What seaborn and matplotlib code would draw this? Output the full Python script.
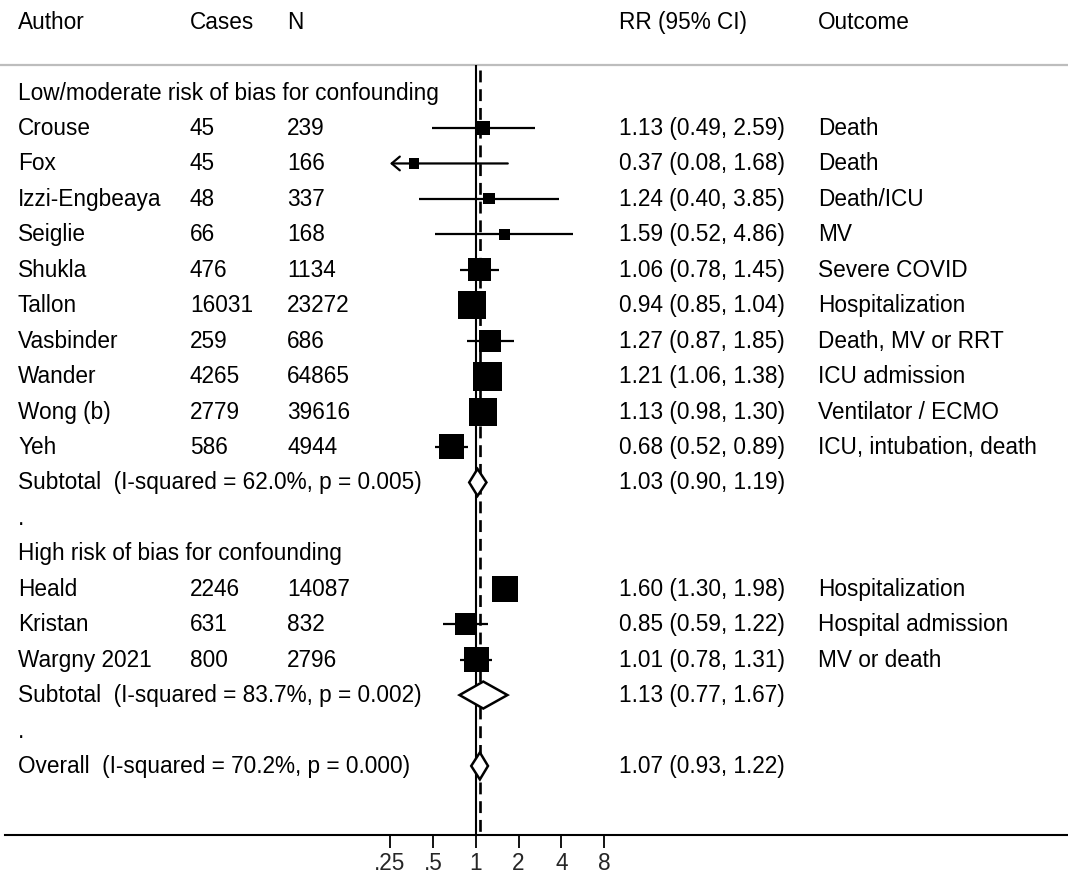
import numpy as np
import pandas as pd
import matplotlib
matplotlib.use("Agg")
import matplotlib.pyplot as plt
import matplotlib.transforms as mtransforms
from matplotlib.patches import Polygon
import seaborn as sns

sns.set_style("white")
plt.rcParams["font.family"] = ["Liberation Sans", "DejaVu Sans"]

# ---------------- data ----------------
headers = ["Author", "Cases", "N", "RR (95% CI)", "Outcome"]
group_labels = ["Low/moderate risk of bias for confounding",
                "High risk of bias for confounding"]

authors_g1 = ["Crouse", "Fox", "Izzi-Engbeaya", "Seiglie", "Shukla", "Tallon",
              "Vasbinder", "Wander", "Wong (b)", "Yeh"]
cases_g1 = [45, 45, 48, 66, 476, 16031, 259, 4265, 2779, 586]
n_g1 = [239, 166, 337, 168, 1134, 23272, 686, 64865, 39616, 4944]
rr_g1 = [1.13, 0.37, 1.24, 1.59, 1.06, 0.94, 1.27, 1.21, 1.13, 0.68]
lo_g1 = [0.49, 0.08, 0.40, 0.52, 0.78, 0.85, 0.87, 1.06, 0.98, 0.52]
hi_g1 = [2.59, 1.68, 3.85, 4.86, 1.45, 1.04, 1.85, 1.38, 1.30, 0.89]
weight_g1 = [3.1, 1.6, 1.9, 1.9, 8.3, 12.3, 7.6, 13.2, 12.3, 9.8]
outcome_g1 = ["Death", "Death", "Death/ICU", "MV", "Severe COVID",
              "Hospitalization", "Death, MV or RRT", "ICU admission",
              "Ventilator / ECMO", "ICU, intubation, death"]

authors_g2 = ["Heald", "Kristan", "Wargny 2021"]
cases_g2 = [2246, 631, 800]
n_g2 = [14087, 832, 2796]
rr_g2 = [1.60, 0.85, 1.01]
lo_g2 = [1.30, 0.59, 0.78]
hi_g2 = [1.98, 1.22, 1.31]
weight_g2 = [10.6, 7.6, 9.8]
outcome_g2 = ["Hospitalization", "Hospital admission", "MV or death"]

subtotal_labels = ["Subtotal  (I-squared = 62.0%, p = 0.005)",
                   "Subtotal  (I-squared = 83.7%, p = 0.002)"]
subtotal_rr = [1.03, 1.13]
subtotal_lo = [0.90, 0.77]
subtotal_hi = [1.19, 1.67]

overall_label = "Overall  (I-squared = 70.2%, p = 0.000)"
overall_rr, overall_lo, overall_hi = 1.07, 0.93, 1.22

tick_values = [0.25, 0.5, 1, 2, 4, 8]
tick_labels = [".25", ".5", "1", "2", "4", "8"]

# ---------------- layout ----------------
W, H = 1068, 877
fig = plt.figure(figsize=(W / 100, H / 100), dpi=100)
ax_left = 5 / W
ax_bottom = (H - 835) / H
ax = fig.add_axes([ax_left, ax_bottom, 1 - ax_left, 1 - ax_bottom])

px_per_doubling = 42.87
x_one = 475.7
ax.set_xscale("log", base=2)
ax.set_xlim(2 ** ((5 - x_one) / px_per_doubling), 2 ** ((W - x_one) / px_per_doubling))
row_px = 35.44
row0_px = 21.7
ax.set_ylim((835 - row0_px) / row_px, (0 - row0_px) / row_px)

FS = 16.3
tr = mtransforms.blended_transform_factory(fig.transFigure, ax.transData)
tr_text = mtransforms.offset_copy(tr, fig=fig, x=0, y=2, units="dots")
col_x = {"author": 18 / W, "cases": 190 / W, "n": 287 / W, "rr": 619 / W, "out": 818 / W}


def txt(x, y, s):
    ax.text(x, y, s, transform=tr_text, fontsize=FS, va="center_baseline", ha="left",
            color="black")


def fmt(r, l, h):
    return f"{r:.2f} ({l:.2f}, {h:.2f})"


# header
row = 0
for key, h in zip(["author", "cases", "n", "rr", "out"], headers):
    txt(col_x[key], row, h)
sep_row = (65 - row0_px) / row_px
ax.plot([0, 1], [sep_row, sep_row], transform=tr, color="#bdbdbd", lw=1.6,
        clip_on=False, solid_capstyle="butt")

records = []
diamonds = []
row = 2
groups = [
    (authors_g1, cases_g1, n_g1, rr_g1, lo_g1, hi_g1, weight_g1, outcome_g1),
    (authors_g2, cases_g2, n_g2, rr_g2, lo_g2, hi_g2, weight_g2, outcome_g2),
]
for gi, (au, ca, nn, rr, lo, hi, wt, oc) in enumerate(groups):
    txt(col_x["author"], row, group_labels[gi])
    row += 1
    for a, c, n_, r, l, h, w, o in zip(au, ca, nn, rr, lo, hi, wt, oc):
        records.append(dict(row=row, rr=r, lo=l, hi=h, weight=w))
        txt(col_x["author"], row, a)
        txt(col_x["cases"], row, str(c))
        txt(col_x["n"], row, str(n_))
        txt(col_x["rr"], row, fmt(r, l, h))
        txt(col_x["out"], row, o)
        row += 1
    txt(col_x["author"], row, subtotal_labels[gi])
    txt(col_x["rr"], row, fmt(subtotal_rr[gi], subtotal_lo[gi], subtotal_hi[gi]))
    diamonds.append((row, subtotal_rr[gi], subtotal_lo[gi], subtotal_hi[gi]))
    row += 1
    txt(col_x["author"], row, ".")
    row += 1
txt(col_x["author"], row, overall_label)
txt(col_x["rr"], row, fmt(overall_rr, overall_lo, overall_hi))
diamonds.append((row, overall_rr, overall_lo, overall_hi))

df = pd.DataFrame(records)

# reference lines
bottom_row = (835 - row0_px) / row_px
ax.plot([1, 1], [sep_row, bottom_row], color="black", lw=1.5, solid_capstyle="butt")
ax.plot([overall_rr, overall_rr], [(70 - row0_px) / row_px, bottom_row], color="black",
        lw=1.9, dashes=(4.5, 2.6))

# CI lines
xmin_plot, xmax_plot = tick_values[0], tick_values[-1]
for _, r in df.iterrows():
    l = max(r.lo, xmin_plot)
    h = min(r.hi, xmax_plot)
    if r.lo < xmin_plot:
        ax.annotate("", xy=(xmin_plot, r.row), xytext=(h, r.row),
                    arrowprops=dict(arrowstyle="->,head_length=0.45,head_width=0.38",
                                    lw=1.6, color="black", shrinkA=0, shrinkB=0,
                                    mutation_scale=13))
    else:
        ax.plot([l, h], [r.row, r.row], color="black", lw=1.6, solid_capstyle="butt")

# weighted squares
k = 33.1
sns.scatterplot(data=df, x="rr", y="row", size="weight",
                sizes=(k * df.weight.min(), k * df.weight.max()),
                marker="s", color="black", linewidth=0, legend=False, ax=ax, zorder=3)

# diamonds
half_h = 13.5 / row_px
for (rw, est, lo, hi) in diamonds:
    poly = Polygon([(lo, rw), (est, rw - half_h), (hi, rw), (est, rw + half_h)],
                   closed=True, facecolor="white", edgecolor="black", lw=1.8, zorder=4)
    ax.add_patch(poly)

# axis
ax.set_xticks(tick_values)
ax.set_xticklabels(tick_labels)
ax.xaxis.set_minor_locator(matplotlib.ticker.NullLocator())
ax.tick_params(axis="x", which="major", length=9.5, width=1.3, direction="out",
               labelsize=FS, pad=3, color="black", bottom=True)
ax.set_yticks([])
for s in ["left", "right", "top"]:
    ax.spines[s].set_visible(False)
ax.spines["bottom"].set_color("black")
ax.spines["bottom"].set_linewidth(1.5)
ax.set_xlabel("")
ax.set_ylabel("")
ax.patch.set_alpha(0)

fig.savefig("out.png", dpi=100, facecolor="white")
